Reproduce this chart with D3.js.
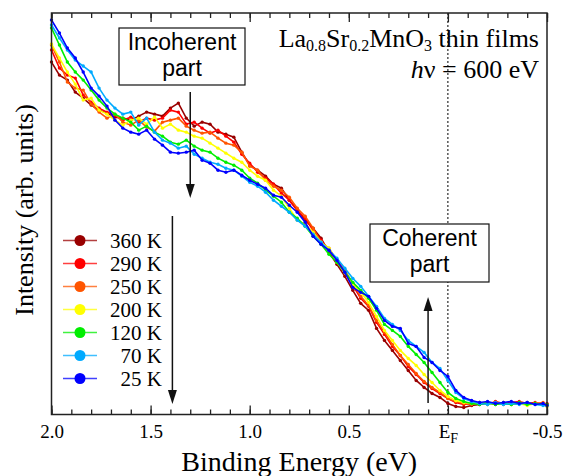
<!DOCTYPE html>
<html>
<head>
<meta charset="utf-8">
<script src="https://cdn.jsdelivr.net/npm/d3@7"></script>
<style>
  body { margin: 0; background: #fff; }
  svg { display: block; }
</style>
</head>
<body>
<div id="chart"></div>
<script>
// binding energy grid (eV)
const energy = [2.00,1.96,1.92,1.88,1.84,1.80,1.76,1.72,1.68,1.64,
  1.60,1.56,1.52,1.48,1.44,1.40,1.36,1.32,1.28,1.24,
  1.20,1.16,1.12,1.08,1.04,1.00,0.96,0.92,0.88,0.84,
  0.80,0.76,0.72,0.68,0.64,0.60,0.56,0.52,0.48,0.44,
  0.40,0.36,0.32,0.28,0.24,0.20,0.16,0.12,0.08,0.04,
  0.00,-0.04,-0.08,-0.12,-0.16,-0.20,-0.24,-0.28,-0.32,-0.36,
  -0.40,-0.44,-0.48,-0.50]

// intensities (arb. units), one array per temperature
const i360 = [352,339,334,322,316,309,304,301,297,296, 294,298,302,300,298,306,311,296,288,292,
  290,282,280,277,262,249,244,238,230,226, 214,204,194,186,176,162,150,138,124,111,
  104,86,74,64,54,44,34,27,21,17, 11,8,7,9,10,11,10,12,10,11, 12,11,10,10]
const i290 = [364,346,339,336,319,312,306,302,299,294, 297,292,296,294,296,304,302,290,292,286,
  281,284,278,272,260,251,242,236,230,221, 214,204,196,184,174,164,152,142,129,116,
  108,92,80,68,59,48,40,32,26,21, 16,12,10,11,12,10,13,11,12,13, 11,12,10,11]
const i250 = [369,352,332,326,324,310,302,296,300,292, 289,294,287,283,292,294,296,288,284,281,
  282,276,271,269,262,248,244,234,228,224, 217,206,198,186,172,166,154,144,131,118,
  109,94,82,70,59,50,41,33,27,22, 16,13,11,10,12,11,12,10,11,12, 10,11,12,9]
const i200 = [370,356,342,330,314,316,304,300,294,289, 294,296,290,297,286,290,284,282,278,276,
  271,266,261,256,252,244,238,234,224,218, 206,194,190,182,172,166,152,142,130,122,
  112,98,84,74,64,56,49,40,32,24, 18,14,12,11,12,10,11,12,10,11, 9,11,10,8]
const i120 = [386,369,352,342,334,324,314,306,300,296, 292,284,288,282,278,272,270,274,268,264,
  262,256,252,249,244,236,231,224,218,212, 202,196,188,178,170,160,152,142,132,124,
  116,104,90,84,78,68,60,52,42,32, 22,16,13,11,10,12,10,11,10,12, 10,11,10,10]
const i70 = [389,376,364,354,348,342,326,314,306,300, 302,289,296,282,274,271,266,268,260,256,
  252,250,246,244,238,232,228,222,214,208, 202,194,188,180,172,164,156,146,136,128,
  118,108,96,90,84,74,68,62,52,46, 34,22,16,13,11,10,12,10,11,10, 12,10,9,9]
const i25 = [394,381,366,356,342,326,318,308,294,286, 282,280,284,275,269,262,261,262,264,254,
  251,244,242,244,239,234,230,226,219,217, 209,202,192,178,170,164,154,142,127,122,
  118,106,94,88,86,71,68,57,52,44, 38,24,17,14,12,13,11,12,13,11, 12,10,11,9]

const temps = ["360 K","290 K","250 K","200 K","120 K","70 K","25 K"]
const colors = ["#990000","#ff0000","#ff5500","#ffff00","#00ee00","#00aaff","#0000ff"]
const series = [i360, i290, i250, i200, i120, i70, i25]

const majorTicks = [2.0, 1.5, 1.0, 0.5, 0, -0.5]
const tickLabels = ["2.0", "1.5", "1.0", "0.5", "E", "-0.5"]

const serif = "'Liberation Serif', 'Times New Roman', serif"
const sans = "'Liberation Sans', Arial, sans-serif"

// set the dimensions and margins of the graph
const margin = {top: 13, right: 18, bottom: 61.5, left: 51.5},
    width = 565 - margin.left - margin.right,
    height = 476 - margin.top - margin.bottom;

const root = d3.select("#chart")
  .append("svg")
    .attr("width", 565)
    .attr("height", 476)
    .style("font-family", serif)

const svg = root.append("g")
    .attr("transform", `translate(${margin.left},${margin.top})`);

const x = d3.scaleLinear().domain([2.0, -0.5]).range([0, width])
const y = d3.scaleLinear().domain([0, 401]).range([height, 0])

// Fermi level
svg.append("line")
  .attr("x1", x(0)).attr("x2", x(0))
  .attr("y1", 0).attr("y2", height)
  .attr("stroke", "#000")
  .attr("stroke-width", 1)
  .attr("stroke-dasharray", "2,2")

// spectra
const line = d3.line()
  .x((d, i) => x(energy[i]))
  .y(d => y(d))

series.forEach((s, k) => {
  const g = svg.append("g")
  g.append("path")
    .datum(s)
    .attr("fill", "none")
    .attr("stroke", colors[k])
    .attr("stroke-width", 1.6)
    .attr("d", line)
  g.selectAll("circle")
    .data(s)
    .join("circle")
      .attr("cx", (d, i) => x(energy[i]))
      .attr("cy", d => y(d))
      .attr("r", 1.7)
      .attr("fill", colors[k])
})

// frame
svg.append("rect")
  .attr("width", width)
  .attr("height", height)
  .attr("fill", "none")
  .attr("stroke", "#222")
  .attr("stroke-width", 1.5)

// bottom + top axes (ticks inside)
const minor = d3.range(-0.5, 2.001, 0.1)
const styleAxis = g => {
  g.select(".domain").remove()
  g.selectAll(".tick line").attr("stroke", "#222").attr("stroke-width", 1.3)
}
svg.append("g")
  .attr("transform", `translate(0,${height})`)
  .call(d3.axisBottom(x).tickValues(minor).tickSize(-5).tickFormat(""))
  .call(styleAxis)
svg.append("g")
  .call(d3.axisTop(x).tickValues(minor).tickSize(-5).tickFormat(""))
  .call(styleAxis)
svg.append("g")
  .call(d3.axisTop(x).tickValues(majorTicks).tickSize(-9).tickFormat(""))
  .call(styleAxis)

const bottomMajor = svg.append("g")
  .attr("transform", `translate(0,${height})`)
  .call(d3.axisBottom(x).tickValues(majorTicks).tickSize(-9).tickPadding(10)
    .tickFormat((d, i) => tickLabels[i]))
  .call(styleAxis)
  .attr("font-family", serif)
  .attr("font-size", 19)

bottomMajor.selectAll(".tick text")
  .attr("fill", "#000")
  .each(function(d) {
    if (d === 0) {
      d3.select(this).append("tspan")
        .attr("dy", 5)
        .attr("font-size", 14)
        .text("F")
    }
  })

// axis titles
root.append("text")
  .attr("x", margin.left + width / 2)
  .attr("y", 471)
  .attr("text-anchor", "middle")
  .style("font-size", "28px")
  .text("Binding Energy (eV)")

root.append("text")
  .attr("transform", "translate(33,210) rotate(-90)")
  .attr("text-anchor", "middle")
  .style("font-size", "26px")
  .text("Intensity (arb. units)")

// sample label
const title = root.append("text")
  .attr("x", 539)
  .attr("y", 47)
  .attr("text-anchor", "end")
  .style("font-size", "26px")
title.append("tspan").text("La")
title.append("tspan").attr("dy", 4).style("font-size", "16px").text("0.8")
title.append("tspan").attr("dy", -4).text("Sr")
title.append("tspan").attr("dy", 4).style("font-size", "16px").text("0.2")
title.append("tspan").attr("dy", -4).text("MnO")
title.append("tspan").attr("dy", 4).style("font-size", "16px").text("3")
title.append("tspan").attr("dy", -4).text(" thin films")

const hv = root.append("text")
  .attr("x", 539)
  .attr("y", 78)
  .attr("text-anchor", "end")
  .style("font-size", "26px")
hv.append("tspan").style("font-style", "italic").text("h")
hv.append("tspan").text("\u03bd = 600 eV")

// annotation boxes
const boxes = [
  {x: 119, y: 28, w: 126, h: 57, lines: ["Incoherent", "part"]},
  {x: 370, y: 224, w: 119, h: 58, lines: ["Coherent", "part"]}
]
boxes.forEach(b => {
  root.append("rect")
    .attr("x", b.x).attr("y", b.y)
    .attr("width", b.w).attr("height", b.h)
    .attr("fill", "#fff")
    .attr("stroke", "#111")
    .attr("stroke-width", 1.2)
  b.lines.forEach((s, i) => {
    root.append("text")
      .attr("x", b.x + b.w / 2)
      .attr("y", b.y + 21.5 + i * 26)
      .attr("text-anchor", "middle")
      .style("font-family", sans)
      .style("font-size", "23px")
      .text(s)
  })
})

// arrows
const arrows = [
  {e: 1.30, y1: 92, y2: 198},
  {e: 1.39, y1: 216, y2: 404},
  {e: 0.10, y1: 403, y2: 297}
]
arrows.forEach(a => {
  const ax = margin.left + x(a.e)
  const dir = a.y2 > a.y1 ? 1 : -1
  root.append("line")
    .attr("x1", ax).attr("x2", ax)
    .attr("y1", a.y1).attr("y2", a.y2 - dir * 10)
    .attr("stroke", "#111")
    .attr("stroke-width", 1.5)
  root.append("path")
    .attr("d", `M${ax},${a.y2} L${ax - 4.5},${a.y2 - dir * 14} L${ax + 4.5},${a.y2 - dir * 14} Z`)
    .attr("fill", "#111")
})

// legend
const legends = root.selectAll(".legend")
  .data(temps)
  .enter().append("g")
    .attr("class", "legend")
    .attr("transform", (d, i) => `translate(0,${240.5 + i * 23})`)

legends.append("line")
  .attr("x1", 63).attr("x2", 97)
  .attr("stroke", (d, i) => colors[i])
  .attr("stroke-opacity", 0.75)
  .attr("stroke-width", 1.3)

legends.append("circle")
  .attr("cx", 80)
  .attr("r", 5.5)
  .attr("fill", (d, i) => colors[i])

legends.append("text")
  .attr("x", 162)
  .attr("dy", "0.35em")
  .attr("text-anchor", "end")
  .style("font-size", "21px")
  .text(d => d)
</script>
</body>
</html>
